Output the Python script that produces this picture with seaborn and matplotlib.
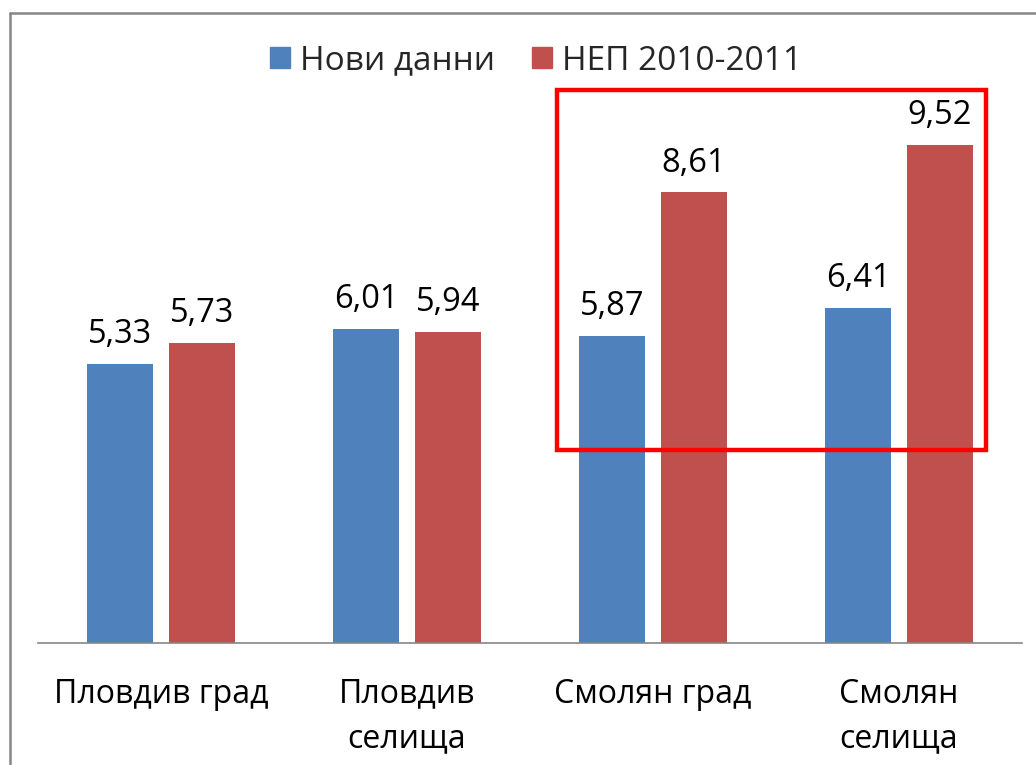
import matplotlib
matplotlib.use("Agg")
import matplotlib.pyplot as plt
import matplotlib.patches as mpatches
from matplotlib.lines import Line2D
import pandas as pd
import seaborn as sns

# chart data
categories = ["Пловдив град", "Пловдив\nселища", "Смолян град", "Смолян\nселища"]
series_names = ["Нови данни", "НЕП 2010-2011"]
new_data = [5.33, 6.01, 5.87, 6.41]
nep_data = [5.73, 5.94, 8.61, 9.52]
colors = ["#4F81BD", "#C0504D"]

df = pd.DataFrame({
    "category": categories * 2,
    "series": [series_names[0]] * 4 + [series_names[1]] * 4,
    "value": new_data + nep_data,
})

sns.set_theme(style="white")
plt.rcParams["font.family"] = ["Open Sans", "DejaVu Sans"]

fig = plt.figure(figsize=(10.36, 7.65), dpi=100)
ax = fig.add_axes([38 / 1036, 1 - 643 / 765, 984 / 1036, 563 / 765])

sns.barplot(data=df, x="category", y="value", hue="series", order=categories,
            hue_order=series_names, palette=colors, width=0.667, gap=0.207,
            saturation=1, edgecolor="none", ax=ax)

ax.set_xlim(-0.5, 3.5)
ax.set_ylim(0, 10.76)
ax.set_xlabel("")
ax.set_ylabel("")
ax.set_yticks([])
ax.tick_params(axis="x", length=0, pad=25, labelsize=23, labelcolor="black")
for lbl in ax.get_xticklabels():
    lbl.set_linespacing(1.45)
for s in ["top", "right", "left"]:
    ax.spines[s].set_visible(False)
ax.spines["bottom"].set_color("#868686")
ax.spines["bottom"].set_linewidth(1.2)

# value labels with comma decimals
for cont in ax.containers:
    for bar in cont:
        h = bar.get_height()
        ax.annotate(f"{h:.2f}".replace(".", ","),
                    (bar.get_x() + bar.get_width() / 2, h),
                    xytext=(0, 15), textcoords="offset points",
                    ha="center", va="baseline", fontsize=23.5, color="black")

# legend at top
handles = [mpatches.Patch(color=c) for c in colors]
ax.legend(handles, series_names, loc="center", bbox_to_anchor=(536 / 1036, 1 - 61 / 765),
          bbox_transform=fig.transFigure, ncol=2, frameon=False, fontsize=24,
          handlelength=0.6, handleheight=0.6, handletextpad=0.3, columnspacing=1.1)

# highlight box around Смолян groups
ax.add_patch(mpatches.Rectangle((1.61, 3.69), 1.743, 6.88, fill=False,
                                edgecolor="#FF0000", linewidth=3.2, clip_on=False))

# chart frame (cropped at right/bottom)
fig.add_artist(Line2D([10 / 1036, 10 / 1036], [0, 1 - 13 / 765], color="#868686",
                      linewidth=1.8, transform=fig.transFigure))
fig.add_artist(Line2D([10 / 1036, 1], [1 - 13 / 765, 1 - 13 / 765], color="#868686",
                      linewidth=1.8, transform=fig.transFigure))

fig.savefig("out.png", dpi=100)
